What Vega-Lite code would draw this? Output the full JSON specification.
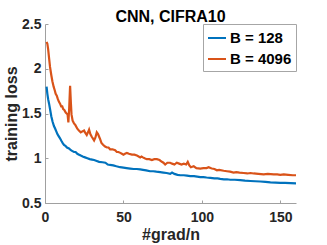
{
  "$schema": "https://vega.github.io/schema/vega-lite/v6.json",
  "autosize": "none",
  "width": 251,
  "height": 179,
  "padding": {"left": 45, "top": 24, "right": 31, "bottom": 42},
  "background": "white",
  "title": {"text": "CNN, CIFRA10", "font": "Liberation Sans", "fontSize": 16, "fontWeight": "bold", "color": "#000000", "anchor": "middle", "offset": 4, "dy": 12},
  "config": {
    "view": {"stroke": null},
    "axis": {"grid": false, "domainColor": "#a0a0a0", "domainWidth": 1, "tickColor": "#a0a0a0", "tickSize": -3, "tickWidth": 1, "labelFont": "Liberation Sans", "labelFontSize": 14, "labelFontWeight": "bold", "labelColor": "#262626", "titleFont": "Liberation Sans", "titleFontSize": 16, "titleFontWeight": "bold", "titleColor": "#262626", "labelFlush": false, "labelOverlap": false}
  },
  "datasets": {
    "loss": [
      {"x":1,"y":2.30,"s":"B = 4096"},{"x":1.5,"y":2.28,"s":"B = 4096"},{"x":2,"y":2.22,"s":"B = 4096"},{"x":2.6,"y":2.12,"s":"B = 4096"},{"x":3.2,"y":2.02,"s":"B = 4096"},{"x":4,"y":1.93,"s":"B = 4096"},{"x":4.7,"y":1.86,"s":"B = 4096"},{"x":5.5,"y":1.80,"s":"B = 4096"},{"x":6.2,"y":1.76,"s":"B = 4096"},{"x":6.8,"y":1.72,"s":"B = 4096"},{"x":7.5,"y":1.70,"s":"B = 4096"},{"x":8.2,"y":1.66,"s":"B = 4096"},{"x":8.9,"y":1.63,"s":"B = 4096"},{"x":9.6,"y":1.61,"s":"B = 4096"},{"x":10.3,"y":1.58,"s":"B = 4096"},{"x":11,"y":1.58,"s":"B = 4096"},{"x":11.6,"y":1.55,"s":"B = 4096"},{"x":12.3,"y":1.54,"s":"B = 4096"},{"x":13.2,"y":1.51,"s":"B = 4096"},{"x":13.8,"y":1.50,"s":"B = 4096"},{"x":14.4,"y":1.49,"s":"B = 4096"},{"x":14.9,"y":1.40,"s":"B = 4096"},{"x":15.4,"y":1.55,"s":"B = 4096"},{"x":16,"y":1.81,"s":"B = 4096"},{"x":16.5,"y":1.62,"s":"B = 4096"},{"x":16.9,"y":1.49,"s":"B = 4096"},{"x":17.6,"y":1.42,"s":"B = 4096"},{"x":18.5,"y":1.39,"s":"B = 4096"},{"x":19.4,"y":1.37,"s":"B = 4096"},{"x":20.6,"y":1.33,"s":"B = 4096"},{"x":21.6,"y":1.31,"s":"B = 4096"},{"x":22.8,"y":1.29,"s":"B = 4096"},{"x":23.8,"y":1.30,"s":"B = 4096"},{"x":24.9,"y":1.31,"s":"B = 4096"},{"x":25.8,"y":1.28,"s":"B = 4096"},{"x":26.6,"y":1.26,"s":"B = 4096"},{"x":27.4,"y":1.29,"s":"B = 4096"},{"x":28.1,"y":1.32,"s":"B = 4096"},{"x":28.9,"y":1.27,"s":"B = 4096"},{"x":29.8,"y":1.24,"s":"B = 4096"},{"x":30.6,"y":1.22,"s":"B = 4096"},{"x":31.3,"y":1.20,"s":"B = 4096"},{"x":32.1,"y":1.23,"s":"B = 4096"},{"x":33,"y":1.29,"s":"B = 4096"},{"x":33.8,"y":1.27,"s":"B = 4096"},{"x":34.5,"y":1.24,"s":"B = 4096"},{"x":35.2,"y":1.21,"s":"B = 4096"},{"x":36,"y":1.17,"s":"B = 4096"},{"x":37,"y":1.15,"s":"B = 4096"},{"x":38.3,"y":1.13,"s":"B = 4096"},{"x":39.5,"y":1.12,"s":"B = 4096"},{"x":40.5,"y":1.12,"s":"B = 4096"},{"x":41.5,"y":1.10,"s":"B = 4096"},{"x":43,"y":1.10,"s":"B = 4096"},{"x":44.7,"y":1.09,"s":"B = 4096"},{"x":45.8,"y":1.07,"s":"B = 4096"},{"x":46.8,"y":1.07,"s":"B = 4096"},{"x":48,"y":1.06,"s":"B = 4096"},{"x":49,"y":1.05,"s":"B = 4096"},{"x":50,"y":1.04,"s":"B = 4096"},{"x":51,"y":1.05,"s":"B = 4096"},{"x":52.2,"y":1.06,"s":"B = 4096"},{"x":53.5,"y":1.05,"s":"B = 4096"},{"x":55.4,"y":1.04,"s":"B = 4096"},{"x":57,"y":1.04,"s":"B = 4096"},{"x":58.6,"y":1.03,"s":"B = 4096"},{"x":59.7,"y":1.02,"s":"B = 4096"},{"x":60.7,"y":1.01,"s":"B = 4096"},{"x":61.5,"y":1.02,"s":"B = 4096"},{"x":62.4,"y":1.01,"s":"B = 4096"},{"x":63.5,"y":1.00,"s":"B = 4096"},{"x":64.9,"y":0.99,"s":"B = 4096"},{"x":66.5,"y":0.99,"s":"B = 4096"},{"x":68.1,"y":0.98,"s":"B = 4096"},{"x":69.7,"y":0.99,"s":"B = 4096"},{"x":71.3,"y":0.99,"s":"B = 4096"},{"x":73,"y":0.98,"s":"B = 4096"},{"x":74.5,"y":0.96,"s":"B = 4096"},{"x":75.5,"y":0.95,"s":"B = 4096"},{"x":76.6,"y":0.93,"s":"B = 4096"},{"x":78,"y":0.95,"s":"B = 4096"},{"x":79.8,"y":0.95,"s":"B = 4096"},{"x":81,"y":0.94,"s":"B = 4096"},{"x":82.5,"y":0.93,"s":"B = 4096"},{"x":84,"y":0.95,"s":"B = 4096"},{"x":85.5,"y":0.94,"s":"B = 4096"},{"x":87,"y":0.93,"s":"B = 4096"},{"x":88.5,"y":0.94,"s":"B = 4096"},{"x":90,"y":0.93,"s":"B = 4096"},{"x":91,"y":0.96,"s":"B = 4096"},{"x":92,"y":0.92,"s":"B = 4096"},{"x":93,"y":0.90,"s":"B = 4096"},{"x":94.8,"y":0.91,"s":"B = 4096"},{"x":96.5,"y":0.89,"s":"B = 4096"},{"x":99,"y":0.885,"s":"B = 4096"},{"x":101,"y":0.89,"s":"B = 4096"},{"x":103,"y":0.89,"s":"B = 4096"},{"x":104.3,"y":0.90,"s":"B = 4096"},{"x":105.5,"y":0.89,"s":"B = 4096"},{"x":106.4,"y":0.885,"s":"B = 4096"},{"x":108,"y":0.88,"s":"B = 4096"},{"x":109.6,"y":0.865,"s":"B = 4096"},{"x":111,"y":0.87,"s":"B = 4096"},{"x":113.9,"y":0.86,"s":"B = 4096"},{"x":116,"y":0.855,"s":"B = 4096"},{"x":118,"y":0.85,"s":"B = 4096"},{"x":120.2,"y":0.84,"s":"B = 4096"},{"x":122,"y":0.845,"s":"B = 4096"},{"x":124,"y":0.84,"s":"B = 4096"},{"x":126.6,"y":0.835,"s":"B = 4096"},{"x":129,"y":0.83,"s":"B = 4096"},{"x":131,"y":0.835,"s":"B = 4096"},{"x":133,"y":0.83,"s":"B = 4096"},{"x":136,"y":0.825,"s":"B = 4096"},{"x":139.4,"y":0.82,"s":"B = 4096"},{"x":142,"y":0.825,"s":"B = 4096"},{"x":145.8,"y":0.82,"s":"B = 4096"},{"x":148,"y":0.82,"s":"B = 4096"},{"x":150,"y":0.815,"s":"B = 4096"},{"x":152.2,"y":0.82,"s":"B = 4096"},{"x":155,"y":0.815,"s":"B = 4096"},{"x":158,"y":0.81,"s":"B = 4096"},{"x":160,"y":0.81,"s":"B = 4096"},
      {"x":1,"y":1.80,"s":"B = 128"},{"x":1.5,"y":1.72,"s":"B = 128"},{"x":2,"y":1.66,"s":"B = 128"},{"x":2.6,"y":1.61,"s":"B = 128"},{"x":3.2,"y":1.55,"s":"B = 128"},{"x":4,"y":1.47,"s":"B = 128"},{"x":4.8,"y":1.41,"s":"B = 128"},{"x":5.7,"y":1.36,"s":"B = 128"},{"x":6.5,"y":1.33,"s":"B = 128"},{"x":7.2,"y":1.30,"s":"B = 128"},{"x":7.9,"y":1.27,"s":"B = 128"},{"x":8.6,"y":1.25,"s":"B = 128"},{"x":9.3,"y":1.23,"s":"B = 128"},{"x":10,"y":1.21,"s":"B = 128"},{"x":10.6,"y":1.19,"s":"B = 128"},{"x":11.3,"y":1.17,"s":"B = 128"},{"x":12.1,"y":1.15,"s":"B = 128"},{"x":13,"y":1.14,"s":"B = 128"},{"x":14,"y":1.12,"s":"B = 128"},{"x":15.3,"y":1.11,"s":"B = 128"},{"x":16.5,"y":1.09,"s":"B = 128"},{"x":17.5,"y":1.08,"s":"B = 128"},{"x":18.5,"y":1.07,"s":"B = 128"},{"x":19.5,"y":1.07,"s":"B = 128"},{"x":20.6,"y":1.05,"s":"B = 128"},{"x":21.7,"y":1.04,"s":"B = 128"},{"x":22.8,"y":1.03,"s":"B = 128"},{"x":24,"y":1.02,"s":"B = 128"},{"x":25.5,"y":1.01,"s":"B = 128"},{"x":27,"y":1.00,"s":"B = 128"},{"x":28.5,"y":0.99,"s":"B = 128"},{"x":30,"y":0.985,"s":"B = 128"},{"x":31.3,"y":0.98,"s":"B = 128"},{"x":33,"y":0.97,"s":"B = 128"},{"x":34.5,"y":0.96,"s":"B = 128"},{"x":36.6,"y":0.955,"s":"B = 128"},{"x":38.5,"y":0.95,"s":"B = 128"},{"x":40,"y":0.93,"s":"B = 128"},{"x":41.5,"y":0.925,"s":"B = 128"},{"x":43.5,"y":0.92,"s":"B = 128"},{"x":45.5,"y":0.91,"s":"B = 128"},{"x":47.9,"y":0.90,"s":"B = 128"},{"x":50,"y":0.895,"s":"B = 128"},{"x":52,"y":0.89,"s":"B = 128"},{"x":54.3,"y":0.885,"s":"B = 128"},{"x":56.5,"y":0.88,"s":"B = 128"},{"x":58.5,"y":0.88,"s":"B = 128"},{"x":60.7,"y":0.875,"s":"B = 128"},{"x":62.5,"y":0.87,"s":"B = 128"},{"x":64.5,"y":0.865,"s":"B = 128"},{"x":67,"y":0.855,"s":"B = 128"},{"x":69,"y":0.855,"s":"B = 128"},{"x":71,"y":0.85,"s":"B = 128"},{"x":73.4,"y":0.845,"s":"B = 128"},{"x":75.5,"y":0.84,"s":"B = 128"},{"x":77.5,"y":0.835,"s":"B = 128"},{"x":79.8,"y":0.825,"s":"B = 128"},{"x":81,"y":0.84,"s":"B = 128"},{"x":82.5,"y":0.825,"s":"B = 128"},{"x":84.5,"y":0.815,"s":"B = 128"},{"x":86.2,"y":0.81,"s":"B = 128"},{"x":88.5,"y":0.81,"s":"B = 128"},{"x":90.5,"y":0.805,"s":"B = 128"},{"x":92.6,"y":0.80,"s":"B = 128"},{"x":95,"y":0.80,"s":"B = 128"},{"x":97,"y":0.795,"s":"B = 128"},{"x":99,"y":0.79,"s":"B = 128"},{"x":101,"y":0.79,"s":"B = 128"},{"x":103,"y":0.785,"s":"B = 128"},{"x":105.4,"y":0.78,"s":"B = 128"},{"x":108,"y":0.775,"s":"B = 128"},{"x":110,"y":0.775,"s":"B = 128"},{"x":111.7,"y":0.77,"s":"B = 128"},{"x":114,"y":0.765,"s":"B = 128"},{"x":116,"y":0.765,"s":"B = 128"},{"x":118.1,"y":0.76,"s":"B = 128"},{"x":121,"y":0.76,"s":"B = 128"},{"x":124.5,"y":0.755,"s":"B = 128"},{"x":127.5,"y":0.75,"s":"B = 128"},{"x":130.9,"y":0.746,"s":"B = 128"},{"x":134,"y":0.743,"s":"B = 128"},{"x":137.3,"y":0.74,"s":"B = 128"},{"x":140.5,"y":0.735,"s":"B = 128"},{"x":143.7,"y":0.73,"s":"B = 128"},{"x":147,"y":0.728,"s":"B = 128"},{"x":150,"y":0.725,"s":"B = 128"},{"x":153,"y":0.724,"s":"B = 128"},{"x":156.5,"y":0.722,"s":"B = 128"},{"x":160,"y":0.72,"s":"B = 128"}
    ]
  },
  "data": {"name": "loss"},
  "mark": {"type": "line", "strokeWidth": 2.2, "clip": true},
  "encoding": {
    "x": {"field": "x", "type": "quantitative", "scale": {"domain": [0, 160], "nice": false, "zero": false},
      "axis": {"title": "#grad/n", "values": [0, 50, 100, 150], "format": "d", "labelPadding": 10, "titleX": 125.5, "titleY": 36, "titleBaseline": "alphabetic"}},
    "y": {"field": "y", "type": "quantitative", "scale": {"domain": [0.5, 2.5], "nice": false, "zero": false},
      "axis": {"title": "training loss", "values": [0.5, 1, 1.5, 2, 2.5], "format": "~g", "labelPadding": 7, "titleX": -29, "titleY": 89.5, "titleBaseline": "alphabetic"}},
    "color": {"field": "s", "type": "nominal", "sort": ["B = 128", "B = 4096"],
      "scale": {"domain": ["B = 128", "B = 4096"], "range": ["#0072BD", "#D95319"]},
      "legend": {"title": null, "orient": "top-right", "offset": 0, "fillColor": "white", "strokeColor": "#a6a6a6", "padding": 4, "symbolType": "stroke", "symbolSize": 324, "symbolStrokeWidth": 2, "labelFont": "Liberation Sans", "labelFontSize": 15, "labelFontWeight": "bold", "labelColor": "#000000", "labelOffset": 3, "rowPadding": 3}
    }
  }
}
